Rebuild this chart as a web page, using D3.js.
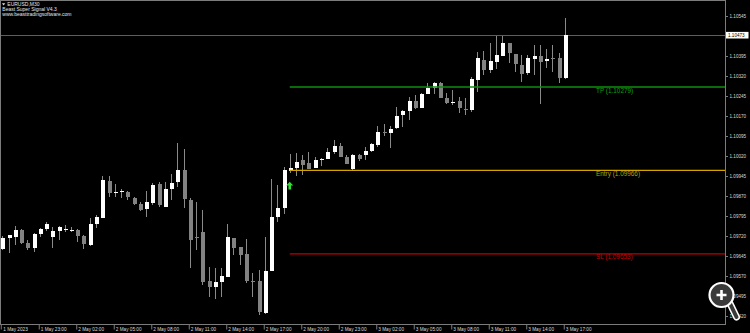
<!DOCTYPE html>
<html>
<head>
<meta charset="utf-8">
<script src="https://cdn.jsdelivr.net/npm/d3@7"></script>
<style>
  body { margin: 0; background: #000; overflow: hidden; }
  text { font-family: "Liberation Sans", Arial, sans-serif; }
</style>
</head>
<body>
<div id="chart"></div>
<script>
// EURUSD M30 candles, 1 May 20:00 -> 3 May 17:00
var open = [1.09671,1.09711,1.09717,1.09741,1.09695,1.09674,1.09726,1.09745,1.09717,1.09740,
  1.09747,1.09744,1.09743,1.09721,1.09686,1.09765,1.09789,1.09926,1.09885,1.09887,
  1.09886,1.09864,1.09840,1.09820,1.09843,1.09914,1.09830,1.09895,1.09921,1.09966,
  1.09854,1.09718,1.09736,1.09552,1.09528,1.09546,1.09567,1.09711,1.09679,1.09653,
  1.09552,1.09550,1.09430,1.09590,1.09790,1.09824,1.09965,1.09974,1.10005,1.09995,
  1.09976,1.10009,1.10010,1.10036,1.10059,1.10017,1.09970,1.10024,1.10023,1.10039,
  1.10061,1.10110,1.10107,1.10124,1.10173,1.10189,1.10227,1.10201,1.10253,1.10274,
  1.10295,1.10236,1.10223,1.10226,1.10197,1.10194,1.10305,1.10380,1.10343,1.10371,
  1.10396,1.10443,1.10401,1.10361,1.10330,1.10384,1.10395,1.10376,1.10389,1.10386,
  1.10311];
var high = [1.09720,1.09724,1.09758,1.09747,1.09705,1.09732,1.09751,1.09773,1.09755,1.09759,
  1.09762,1.09755,1.09745,1.09724,1.09786,1.09799,1.09945,1.09945,1.09916,1.09896,
  1.09888,1.09867,1.09849,1.09889,1.09918,1.09921,1.09921,1.09951,1.10068,1.10046,
  1.09864,1.09849,1.09818,1.09605,1.09599,1.09599,1.09764,1.09713,1.09680,1.09709,
  1.09580,1.09593,1.09715,1.09933,1.09911,1.09978,1.10028,1.10031,1.10024,1.10036,
  1.10015,1.10011,1.10049,1.10080,1.10068,1.10024,1.10026,1.10026,1.10053,1.10068,
  1.10133,1.10140,1.10133,1.10205,1.10193,1.10240,1.10249,1.10257,1.10293,1.10299,
  1.10296,1.10255,1.10268,1.10242,1.10236,1.10317,1.10411,1.10414,1.10445,1.10470,
  1.10470,1.10444,1.10402,1.10399,1.10399,1.10436,1.10436,1.10420,1.10436,1.10405,
  1.10538];
var low = [1.09668,1.09656,1.09686,1.09690,1.09668,1.09659,1.09715,1.09740,1.09674,1.09705,
  1.09735,1.09734,1.09698,1.09672,1.09684,1.09749,1.09787,1.09867,1.09867,1.09861,
  1.09855,1.09836,1.09815,1.09790,1.09835,1.09830,1.09828,1.09855,1.09905,1.09824,
  1.09599,1.09668,1.09536,1.09492,1.09483,1.09492,1.09565,1.09649,1.09611,1.09545,
  1.09490,1.09424,1.09428,1.09588,1.09771,1.09803,1.09955,1.09945,1.09949,1.09970,
  1.09975,1.09983,1.10009,1.10028,1.10016,1.09989,1.09968,1.10002,1.10005,1.10036,
  1.10053,1.10095,1.10049,1.10122,1.10130,1.10155,1.10198,1.10200,1.10252,1.10253,
  1.10238,1.10214,1.10211,1.10181,1.10174,1.10185,1.10261,1.10324,1.10330,1.10346,
  1.10395,1.10368,1.10336,1.10299,1.10324,1.10324,1.10215,1.10349,1.10336,1.10293,
  1.10310];
var close = [1.09713,1.09723,1.09741,1.09695,1.09675,1.09729,1.09746,1.09765,1.09739,1.09755,
  1.09747,1.09744,1.09721,1.09689,1.09765,1.09792,1.09929,1.09880,1.09886,1.09888,
  1.09865,1.09839,1.09818,1.09846,1.09910,1.09835,1.09897,1.09918,1.09966,1.09858,
  1.09705,1.09716,1.09549,1.09528,1.09549,1.09571,1.09715,1.09676,1.09649,1.09552,
  1.09550,1.09434,1.09590,1.09790,1.09824,1.09968,1.09974,1.09999,1.09986,1.09971,
  1.10005,1.10010,1.10035,1.10058,1.10017,1.09990,1.10024,1.10010,1.10040,1.10064,
  1.10111,1.10109,1.10121,1.10171,1.10189,1.10227,1.10199,1.10253,1.10274,1.10295,
  1.10239,1.10218,1.10224,1.10199,1.10196,1.10308,1.10386,1.10343,1.10376,1.10399,
  1.10443,1.10405,1.10364,1.10328,1.10386,1.10395,1.10374,1.10384,1.10383,1.10314,
  1.10473];

var priceTicks = [1.10545,1.10470,1.10395,1.10320,1.10245,1.10170,1.10095,1.10020,
  1.09945,1.09870,1.09795,1.09720,1.09645,1.09570,1.09495,1.09420];

var levelNames = ["TP", "Entry", "SL"];
var levelValues = [1.10279, 1.09966, 1.09653];
var signalBar = 46;   // buy arrow + level lines start here
var labelBar = 95;    // level captions sit here (future side)

var headerLines = ["EURUSD,M30", "Beast Super Signal V4.3", "www.beasttradingsoftware.com"];

var times = d3.timeMinute.every(30).range(new Date(2023, 4, 1, 20, 0), new Date(2023, 4, 3, 17, 30));

var levelColor = { TP: ["#0f8f0f", "#12a012"], Entry: ["#d2a400", "#b4a000"], SL: ["#c00000", "#cc0000"] };

var W = 750, H = 333, plotR = 725, plotB = 324;

var svg = d3.select("#chart").append("svg")
    .attr("width", W)
    .attr("height", H)
    .style("display", "block")
    .style("background", "#000");

var step = 30 * 60 * 1000;
var x = d3.scaleTime()
    .domain([times[0], new Date(+times[times.length - 1] + labelBar * 0)])
    .range([2.25, 2.25 + (times.length - 1) * 6.25]);
var y = d3.scaleLinear()
    .domain([1.0939, 1.10605])
    .range([plotB, 0]);

function xAt(i) { return x(new Date(+times[0] + i * step)); }

// frame
svg.append("rect")
    .attr("x", 0.5).attr("y", 0.5)
    .attr("width", plotR).attr("height", plotB)
    .attr("fill", "none").attr("stroke", "#7c7c7c");

// current price line
var last = close[close.length - 1];
svg.append("line")
    .attr("x1", 1).attr("x2", plotR)
    .attr("y1", Math.round(y(last)) + 0.5).attr("y2", Math.round(y(last)) + 0.5)
    .attr("stroke", "#56606a");

// candles
var bars = d3.range(times.length);
var g = svg.append("g").attr("shape-rendering", "crispEdges");
g.selectAll(".wick").data(bars).enter().append("line")
    .attr("x1", function(i) { return Math.round(x(times[i])) + 0.5; })
    .attr("x2", function(i) { return Math.round(x(times[i])) + 0.5; })
    .attr("y1", function(i) { return y(high[i]); })
    .attr("y2", function(i) { return y(low[i]); })
    .attr("stroke", "#8a8a8a");
g.selectAll(".body").data(bars).enter().append("rect")
    .attr("x", function(i) { return Math.round(x(times[i])) - 1.5; })
    .attr("width", 4)
    .attr("y", function(i) { return y(Math.max(open[i], close[i])); })
    .attr("height", function(i) { return Math.max(1, Math.abs(y(open[i]) - y(close[i]))); })
    .attr("fill", function(i) { return close[i] < open[i] ? "#828282" : "#ffffff"; });

// TP / Entry / SL lines
levelNames.forEach(function(name, k) {
  var ly = y(levelValues[k]);
  svg.append("line")
      .attr("x1", xAt(signalBar)).attr("x2", plotR)
      .attr("y1", ly).attr("y2", ly)
      .attr("stroke", levelColor[name][0]).attr("stroke-width", 1.4);
  svg.append("text")
      .attr("x", xAt(labelBar)).attr("y", ly + 5.6)
      .attr("font-size", 6.4)
      .attr("fill", levelColor[name][1])
      .text(name + " (" + levelValues[k].toFixed(5) + ")");
});

// buy arrow under the signal bar
var ax = xAt(signalBar), ay = y(low[signalBar]) + 8.5;
svg.append("path")
    .attr("d", "M" + ax + "," + ay + "l-3.5,3.6h2.2v4h2.6v-4h2.2z")
    .attr("fill", "#2ee02e");

// right price axis
var yAxis = svg.append("g")
    .attr("transform", "translate(" + plotR + ",0)")
    .call(d3.axisRight(y).tickValues(priceTicks).tickSize(3).tickPadding(1.5)
          .tickFormat(d3.format(".5f")));
yAxis.select(".domain").remove();
yAxis.selectAll("line").attr("stroke", "#7c7c7c");
yAxis.selectAll("text").attr("fill", "#d8d8d8").attr("font-size", 4.6)
    .attr("font-family", "Liberation Sans, Arial, sans-serif");

// current price tag
svg.append("rect")
    .attr("x", plotR + 1).attr("y", y(last) - 3.3)
    .attr("width", 22.5).attr("height", 6.6)
    .attr("fill", "#ffffff");
svg.append("text")
    .attr("x", plotR + 3).attr("y", y(last) + 1.6)
    .attr("font-size", 4.6).attr("fill", "#000")
    .text(last.toFixed(5));

// time axis
var tickIdx = bars.filter(function(i) { return i % 6 === 0; });
var fmtFirst = d3.timeFormat("%-d %b %Y"), fmt = d3.timeFormat("%-d %b %H:%M");
var xAxis = svg.append("g")
    .attr("transform", "translate(0," + (plotB + 0.5) + ")")
    .call(d3.axisBottom(x).tickValues(tickIdx.map(function(i) { return times[i]; }))
          .tickSize(5).tickPadding(0)
          .tickFormat(function(d, k) { return k === 0 ? fmtFirst(d) : fmt(d); }));
xAxis.select(".domain").remove();
xAxis.selectAll("line").attr("stroke", "#7c7c7c")
    .attr("transform", function(d, k) { return k === 0 ? "translate(-1.5,0)" : "translate(-1,0)"; });
xAxis.selectAll("text")
    .attr("text-anchor", "start").attr("dx", 0.5).attr("dy", 0).attr("y", 6)
    .attr("fill", "#d8d8d8").attr("font-size", 4.7)
    .attr("font-family", "Liberation Sans, Arial, sans-serif");

// header text, top-left
svg.append("path").attr("d", "M2,3.2h3.2l-1.6,2.2z").attr("fill", "#e0e0e0");
svg.selectAll(".hdr").data(headerLines).enter().append("text")
    .attr("x", function(d, k) { return k === 0 ? 7.3 : 2.3; })
    .attr("y", function(d, k) { return 6 + k * 5.2; })
    .attr("font-size", 5)
    .attr("fill", "#e6e6e6")
    .text(function(d) { return d; });

// screenshot zoom overlay (bottom-right)
var mz = svg.append("g").attr("transform", "translate(721.5,295)");
mz.append("line").attr("x1", 8.5).attr("y1", 8.5).attr("x2", 15).attr("y2", 22)
    .attr("stroke", "#ffffff").attr("stroke-width", 7).attr("stroke-linecap", "round");
mz.append("line").attr("x1", 8.5).attr("y1", 8.5).attr("x2", 15).attr("y2", 22)
    .attr("stroke", "#3a3a3a").attr("stroke-width", 4).attr("stroke-linecap", "round");
mz.append("circle").attr("r", 12).attr("fill", "#3a3a3a")
    .attr("stroke", "#ffffff").attr("stroke-width", 2.2);
mz.append("path").attr("d", "M-5,0H5M0,-5V5")
    .attr("stroke", "#ffffff").attr("stroke-width", 2.6);
</script>
</body>
</html>
